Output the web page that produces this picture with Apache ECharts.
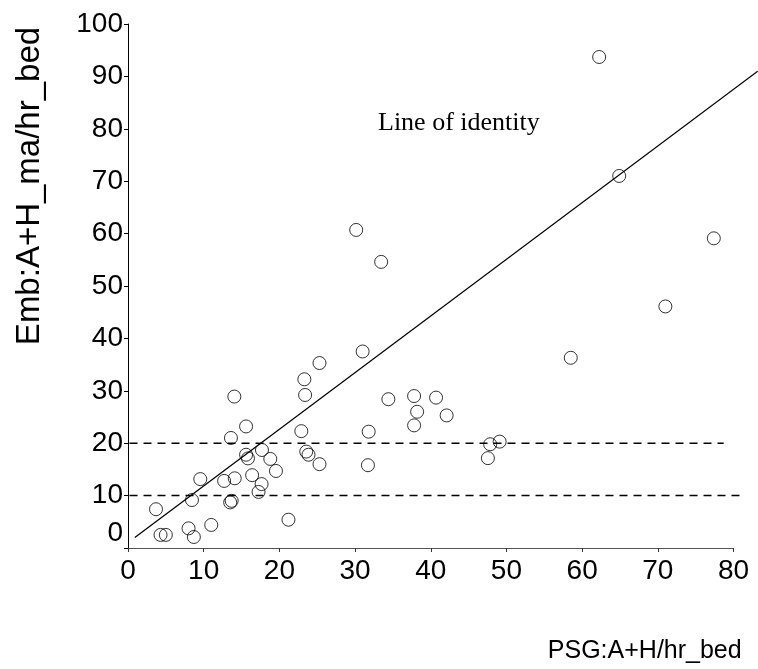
<!DOCTYPE html>
<html>
<head>
<meta charset="utf-8">
<style>
  html, body { margin: 0; padding: 0; background: #fff; }
  #chart { width: 758px; height: 669px; }
</style>
<script src="https://cdn.jsdelivr.net/npm/echarts@6/dist/echarts.min.js"></script>
</head>
<body>
<div id="chart"></div>
<script>
// PSG vs embedded-device event index, one point per subject
const psg = [3.7, 4.3, 5.0, 8.0, 8.7, 8.45, 9.55, 11.0, 12.7, 13.5,
             13.7, 13.6, 14.05, 14.1, 15.6, 15.6, 15.85, 16.4, 17.65, 17.25,
             17.7, 18.8, 19.55, 21.2, 22.9, 23.3, 23.4, 23.55, 23.85, 25.3,
             25.3, 31.0, 31.8, 31.7, 34.4, 30.15, 33.45, 37.8, 38.2, 37.8,
             40.7, 42.1, 47.85, 49.1, 47.55, 58.5, 71.0, 62.25, 64.9, 77.4];
const emb = [7.4, 2.5, 2.5, 3.75, 2.1, 9.15, 13.15, 4.4, 12.8, 8.7,
             9.0, 21.0, 28.9, 13.3, 23.2, 17.8, 17.1, 13.9, 12.2, 10.7,
             18.7, 17.0, 14.7, 5.4, 22.3, 32.2, 29.2, 18.4, 17.8, 35.3,
             16.0, 37.5, 22.2, 15.8, 28.4, 60.7, 54.6, 29.0, 26.0, 23.4,
             28.7, 25.3, 19.8, 20.3, 17.15, 36.3, 46.1, 93.7, 71.0, 59.1];

// reference line endpoints (x, y); it runs past the last x tick
const identityX = [0.9, 83.2];
const identityY = [2.0, 91.0];
// horizontal cut-off levels and their x extents
const cutLevels = [20, 10];
const cutStartX = [0.2, 0.2];
const cutEndX = [78.7, 81.4];

const xTicks = { min: 0, max: 80, interval: 10 };
const yTicks = { min: 0, max: 100, interval: 10 };

const points = psg.map((x, i) => [x, emb[i]]);

const sans = "'Liberation Sans', Arial, sans-serif";

const chart = echarts.init(document.getElementById('chart'), null, { renderer: 'canvas' });
chart.setOption({
  animation: false,
  backgroundColor: '#fff',
  grid: { left: 128, top: 24, right: 24.5, bottom: 120, containLabel: false },
  xAxis: {
    type: 'value',
    min: xTicks.min, max: xTicks.max, interval: xTicks.interval,
    name: 'PSG:A+H/hr_bed',
    nameLocation: 'middle',
    nameGap: 91,
    nameTextStyle: { fontFamily: sans, fontSize: 25, color: '#000', padding: [0, 0, 0, 428] },
    axisLine: { show: true, lineStyle: { color: '#555', width: 1 } },
    axisTick: { show: true, inside: false, length: 4, lineStyle: { color: '#333' } },
    axisLabel: { fontFamily: sans, fontSize: 28, color: '#000', margin: 9 },
    splitLine: { show: false }
  },
  yAxis: {
    type: 'value',
    min: yTicks.min, max: yTicks.max, interval: yTicks.interval,
    name: 'Emb:A+H_ma/hr_bed',
    nameLocation: 'middle',
    nameRotate: 90,
    nameGap: 82,
    nameTextStyle: { fontFamily: sans, fontSize: 33, color: '#000', padding: [0, 0, 0, 200] },
    axisLine: { show: true, onZero: false, lineStyle: { color: '#000', width: 1 } },
    axisTick: { show: true, inside: false, length: 4, lineStyle: { color: '#000' } },
    axisLabel: {
      fontFamily: sans, fontSize: 28, color: '#000', margin: 5,
      formatter: v => (v === 0 ? '{z|0}' : String(v)),
      rich: { z: { fontFamily: sans, fontSize: 28, color: '#000', padding: [0, 0, 30, 0] } }
    },
    splitLine: { show: false }
  },
  series: [
    {
      type: 'scatter',
      data: points,
      symbol: 'circle',
      symbolSize: 13,
      itemStyle: { color: 'rgba(0,0,0,0)', borderColor: '#000', borderWidth: 1 },
      z: 3
    }
  ]
});

// Reference lines are placed through the grid's own scales so they can
// extend beyond the axis range, as the identity line does on the right.
const toPx = (x, y) => chart.convertToPixel({ gridIndex: 0 }, [x, y]);

const lineGraphics = [{
  type: 'polyline',
  silent: true,
  z: 2,
  shape: { points: identityX.map((x, i) => toPx(x, identityY[i])) },
  style: { stroke: '#000', lineWidth: 1.3, fill: null }
}];
cutLevels.forEach((lvl, i) => {
  lineGraphics.push({
    type: 'polyline',
    silent: true,
    z: 2,
    shape: { points: [toPx(cutStartX[i], lvl), toPx(cutEndX[i], lvl)] },
    style: { stroke: '#000', lineWidth: 1.5, lineDash: [8, 6], fill: null }
  });
});

chart.setOption({
  graphic: [
    ...lineGraphics,
    {
      type: 'text',
      left: 378,
      top: 110,
      style: {
        text: 'Line of identity',
        font: "26px 'Liberation Serif', 'Times New Roman', serif",
        fill: '#000'
      }
    }
  ]
});
</script>
</body>
</html>
